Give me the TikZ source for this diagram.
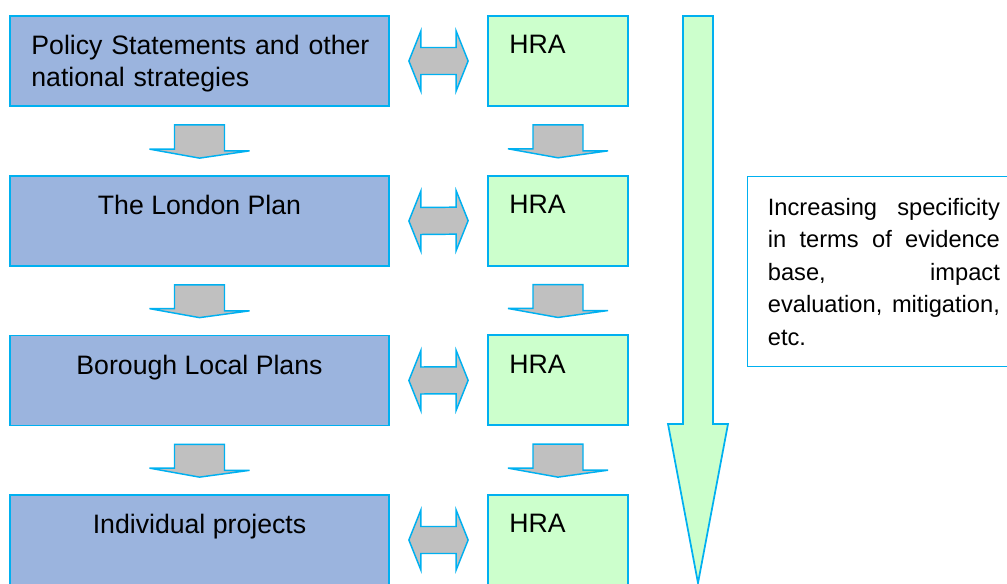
\documentclass[tikz,border=0pt]{standalone}
\usepackage{fontspec}
\setmainfont{Liberation Sans}
\usetikzlibrary{calc}
\usetikzlibrary{positioning}

\definecolor{edgecyan}{RGB}{0,176,240}
\definecolor{planblue}{RGB}{155,180,222}
\definecolor{hragreen}{RGB}{204,255,204}
\definecolor{arrowgray}{RGB}{192,192,192}

\tikzset{
    planbox/.style={draw=edgecyan, fill=planblue, line width=1.3pt,
        minimum width=284.25pt, minimum height=67.5pt, inner sep=0pt},
    hrabox/.style={draw=edgecyan, fill=hragreen, line width=1.3pt,
        minimum width=105pt, minimum height=67.5pt, inner sep=0pt},
    notebox/.style={draw=edgecyan, fill=white, line width=1.3pt,
        minimum width=201pt, minimum height=142.5pt, inner sep=0pt},
    boxtext/.style={inner sep=0pt, font=\fontsize{20}{24}\selectfont},
    notetext/.style={inner sep=0pt, anchor=north west, text width=174pt,
        align=justify, font=\fontsize{17.75}{24.4}\selectfont},
    flowarrow/.style={draw=edgecyan, fill=arrowgray, line width=1.1pt, line join=miter},
    bigarrow/.style={draw=edgecyan, fill=hragreen, line width=1.3pt, line join=miter}
}

% block arrow from one box down to the next
\newcommand{\flowdown}[2]{%
    \draw[flowarrow] ($(#1.south)+(-25,18)$) -- ++(50,0) -- ++(0,26) -- ++(25,0)
        -- ($(#2.north)+(0,-17)$) -- ++(-50,-9) -- ++(25,0) -- cycle;}
% two-headed block arrow between a plan and its HRA
\newcommand{\twoway}[2]{%
    \draw[flowarrow] ($(#1.east)+(19,0)$) -- ++(12,-30) -- ++(0,16.5)
        -- ($(#2.west)+(-31,-13.5)$) -- ++(0,-16.5) -- ($(#2.west)+(-19,0)$)
        -- ++(-12,30) -- ++(0,-16.5) -- ($(#1.east)+(31,13.5)$) -- ++(0,16.5) -- cycle;}

\begin{document}
\begin{tikzpicture}[x=0.75pt, y=-0.75pt]
\useasboundingbox (0,0) rectangle (1007,584);

\node[planbox] (plan1) at (199.5,61) {};
\node[planbox] (plan2) at (199.5,221) {};
\node[planbox] (plan3) at (199.5,380.5) {};
\node[planbox] (plan4) at (199.5,540) {};
\foreach \r in {1,...,4}
    \node[hrabox] (hra\r) at (558,{61+159.67*(\r-1)}) {};

\node[boxtext, anchor=north west, text width=255pt, align=left]
    at ($(plan1.north west)+(22,20)$) {Policy Statements and other national strategies};
\node[boxtext, anchor=north] at ($(plan2.north)+(0,20)$) {The London Plan};
\node[boxtext, anchor=north] at ($(plan3.north)+(0,20)$) {Borough Local Plans};
\node[boxtext, anchor=north] at ($(plan4.north)+(0,20)$) {Individual projects};
\foreach \r in {1,...,4}
    \node[boxtext, anchor=north west] at ($(hra\r.north west)+(22,20)$) {HRA};

\foreach \a/\b in {1/2,2/3,3/4} {
    \flowdown{plan\a}{plan\b}
    \flowdown{hra\a}{hra\b}
}
\foreach \a in {1,...,4} {
    \twoway{plan\a}{hra\a}
}

% long arrow down the right side
\draw[bigarrow] (683,16) -- (713,16) -- (713,424) -- (728,424) -- (698,583)
    -- (668,424) -- (683,424) -- cycle;

\node[notebox] (note) at (881.5,271.5) {};
\node[notetext] at ($(note.north west)+(21,22)$)
    {Increasing specificity\linebreak in terms of evidence\linebreak base, impact\linebreak
    evaluation, mitigation,\linebreak etc.};
\end{tikzpicture}
\end{document}
